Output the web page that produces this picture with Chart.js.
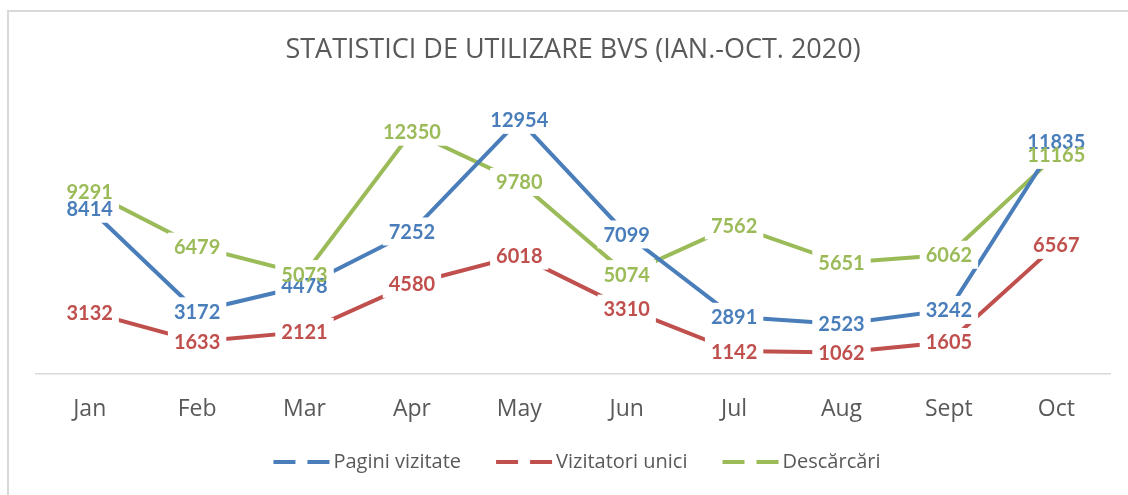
<!DOCTYPE html>
<html>
<head>
<meta charset="utf-8">
<script src="https://cdn.jsdelivr.net/npm/chart.js@4/dist/chart.umd.min.js"></script>
<style>
  html, body { margin: 0; padding: 0; background: #fff; overflow: hidden; }
  #frame { position: absolute; left: 7px; top: 10px; width: 1140px; height: 500px; border: 2px solid #d9d9d9; box-sizing: border-box; }
  #chart { position: absolute; left: 0; top: 0; }
</style>
</head>
<body>
<div id="frame"></div>
<canvas id="chart" width="1128" height="495"></canvas>
<script>
const months = ['Jan', 'Feb', 'Mar', 'Apr', 'May', 'Jun', 'Jul', 'Aug', 'Sept', 'Oct'];
const paginiVizitate = [8414, 3172, 4478, 7252, 12954, 7099, 2891, 2523, 3242, 11835];
const vizitatoriUnici = [3132, 1633, 2121, 4580, 6018, 3310, 1142, 1062, 1605, 6567];
const descarcari = [9291, 6479, 5073, 12350, 9780, 5074, 7562, 5651, 6062, 11165];

const blue = '#4a7ebb';
const red = '#c0504d';
const green = '#9bbb59';

// labels sit on the points, with a white box that breaks the lines
const pointLabels = {
  id: 'pointLabels',
  afterDatasetsDraw(chart) {
    const ctx = chart.ctx;
    ctx.save();
    ctx.font = 'bold 20px Lato';
    ctx.textAlign = 'center';
    ctx.textBaseline = 'middle';
    const items = [];
    chart.data.datasets.forEach((ds, i) => {
      const meta = chart.getDatasetMeta(i);
      meta.data.forEach((pt, j) => {
        items.push({ x: pt.x, y: pt.y, text: String(ds.data[j]), color: ds.borderColor });
      });
    });
    ctx.fillStyle = '#fff';
    items.forEach(it => {
      const w = ctx.measureText(it.text).width;
      ctx.fillRect(it.x - w / 2 - 6, it.y - 14, w + 12, 28);
    });
    items.forEach(it => {
      ctx.fillStyle = it.color;
      ctx.fillText(it.text, it.x, it.y + 1);
    });
    ctx.restore();
  }
};

// legend like the office one: dashed line, then the name
const dashLegend = {
  id: 'dashLegend',
  afterDraw(chart) {
    const ctx = chart.ctx;
    const a = chart.chartArea;
    ctx.save();
    ctx.font = '20px "Open Sans"';
    ctx.textBaseline = 'middle';
    const markW = 56, markGap = 4, itemGap = 35, y = 462;
    const sets = chart.data.datasets;
    const widths = sets.map(ds => markW + markGap + ctx.measureText(ds.label).width);
    const total = widths.reduce((s, w) => s + w, 0) + itemGap * (sets.length - 1);
    let x = (a.left + a.right) / 2 - total / 2 + 4;
    sets.forEach((ds, i) => {
      ctx.strokeStyle = ds.borderColor;
      ctx.lineWidth = 4;
      ctx.setLineDash([22, 12]);
      ctx.beginPath();
      ctx.moveTo(x, y);
      ctx.lineTo(x + markW, y);
      ctx.stroke();
      ctx.setLineDash([]);
      ctx.fillStyle = '#595959';
      ctx.fillText(ds.label, x + markW + markGap, y);
      x += widths[i] + itemGap;
    });
    ctx.restore();
  }
};

function makeSet(label, data, color) {
  return {
    label: label,
    data: data,
    borderColor: color,
    backgroundColor: color,
    borderWidth: 4,
    pointRadius: 0,
    tension: 0,
    fill: false
  };
}

new Chart(document.getElementById('chart').getContext('2d'), {
  type: 'line',
  data: {
    labels: months,
    datasets: [
      makeSet('Pagini vizitate', paginiVizitate, blue),
      makeSet('Vizitatori unici', vizitatoriUnici, red),
      makeSet('Descărcări', descarcari, green)
    ]
  },
  options: {
    responsive: false,
    animation: false,
    devicePixelRatio: 1,
    layout: { padding: { left: 36, right: 18, top: 20, bottom: 58 } },
    scales: {
      x: {
        offset: true,
        grid: { display: false },
        border: { display: true, color: '#d9d9d9', width: 1.5 },
        ticks: { color: '#595959', font: { family: 'Open Sans', size: 23 }, padding: 14 }
      },
      y: { display: false, min: 0, max: 14000 }
    },
    plugins: {
      title: {
        display: true,
        text: 'STATISTICI DE UTILIZARE BVS (IAN.-OCT. 2020)',
        color: '#595959',
        font: { family: 'Open Sans', size: 27, weight: 'normal' },
        padding: { top: 14, bottom: 33 }
      },
      legend: { display: false },
      tooltip: { enabled: false }
    }
  },
  plugins: [pointLabels, dashLegend]
});
</script>
</body>
</html>
